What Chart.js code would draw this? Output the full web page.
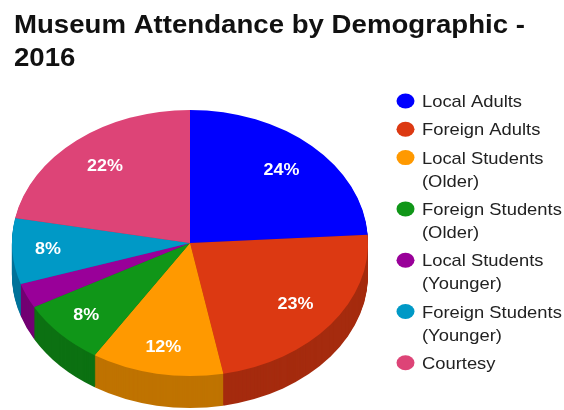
<!DOCTYPE html>
<html><head><meta charset="utf-8">
<script src="https://cdn.jsdelivr.net/npm/chart.js@4/dist/chart.umd.min.js"></script>
<style>html,body{margin:0;padding:0;background:#fff}#wrap{position:relative;width:564px;height:410px}</style>
</head><body><div id="wrap"><canvas id="c" width="564" height="410"></canvas></div>
<script>
// ---- data ----
const titleLines = ['Museum Attendance by Demographic -', '2016'];
const categories = ['Local Adults', 'Foreign Adults', 'Local Students (Older)', 'Foreign Students (Older)', 'Local Students (Younger)', 'Foreign Students (Younger)', 'Courtesy'];
const legendLines = [['Local Adults'], ['Foreign Adults'], ['Local Students', '(Older)'], ['Foreign Students', '(Older)'], ['Local Students', '(Younger)'], ['Foreign Students', '(Younger)'], ['Courtesy']];
const values = [24, 23, 12, 8, 3, 8, 22];
const colors = ['#0000ff', '#dc3912', '#ff9900', '#109618', '#990099', '#0099c6', '#dd4477'];
const sideColors = ['#0000bf', '#a52b0e', '#bf7300', '#0c7112', '#730073', '#00739a', '#a63359'];

// ---- geometry of the 3D ellipse ----
const CX = 190, CY = 243, RX = 178, RY = 133, DEPTH = 32;
const FONT = '"Liberation Sans", Arial, sans-serif';

function ellipseTransform(ctx, arc, dy) {
  ctx.translate(CX, CY + dy);
  ctx.scale(RX / arc.outerRadius, RY / arc.outerRadius);
  ctx.translate(-arc.x, -arc.y);
}

const pie3d = {
  id: 'pie3d',
  beforeDatasetsDraw(chart) {
    const ctx = chart.ctx;
    const arcs = chart.getDatasetMeta(0).data;
    const a0 = arcs[0];
    for (let k = DEPTH; k >= 1; k--) {
      ctx.save();
      ellipseTransform(ctx, a0, k);
      arcs.forEach((a, i) => {
        ctx.beginPath();
        ctx.moveTo(a.x, a.y);
        ctx.arc(a.x, a.y, a.outerRadius, a.startAngle, a.endAngle);
        ctx.closePath();
        ctx.fillStyle = sideColors[i];
        ctx.fill();
      });
      ctx.restore();
    }
    ctx.save();
    ellipseTransform(ctx, a0, 0);
  },
  afterDatasetsDraw(chart) {
    const ctx = chart.ctx;
    ctx.restore();
    const arcs = chart.getDatasetMeta(0).data;
    const total = values.reduce((s, v) => s + v, 0);
    ctx.save();
    ctx.fillStyle = '#ffffff';
    ctx.font = 'bold 16px ' + FONT;
    ctx.textAlign = 'center';
    ctx.textBaseline = 'middle';
    arcs.forEach((a, i) => {
      const share = values[i] / total;
      if (share < 0.05) return;
      const mid = (a.startAngle + a.endAngle) / 2;
      const f = share >= 0.2 ? 0.75 : 0.8;
      const x = CX + Math.cos(mid) * RX * f;
      const y = CY + Math.sin(mid) * RY * f;
      ctx.save();
      ctx.translate(x, y);
      ctx.scale(1.12, 1);
      ctx.fillText(Math.round(share * 100) + '%', 0, 0);
      ctx.restore();
    });
    ctx.restore();
  },
  afterDraw(chart) {
    const ctx = chart.ctx;
    ctx.save();
    // title
    ctx.fillStyle = '#111111';
    ctx.font = 'bold 26px ' + FONT;
    ctx.textAlign = 'left';
    ctx.textBaseline = 'alphabetic';
    titleLines.forEach((t, i) => {
      ctx.save();
      ctx.translate(14, 32.5 + i * 33);
      ctx.scale(1.062, 1);
      ctx.fillText(t, 0, 0);
      ctx.restore();
    });
    // legend
    ctx.font = '17px ' + FONT;
    let y = 101;
    legendLines.forEach((lines, i) => {
      ctx.fillStyle = colors[i];
      ctx.beginPath();
      ctx.ellipse(405.5, y, 9, 7.5, 0, 0, Math.PI * 2);
      ctx.fill();
      ctx.fillStyle = '#222222';
      lines.forEach((t, j) => {
        ctx.save();
        ctx.translate(422, y + 6 + j * 23);
        ctx.scale(1.08, 1);
        ctx.fillText(t, 0, 0);
        ctx.restore();
      });
      y += 23 * (lines.length - 1) + 28.3;
    });
    ctx.restore();
  }
};

new Chart(document.getElementById('c'), {
  type: 'pie',
  data: {
    labels: categories,
    datasets: [{ data: values, backgroundColor: colors, borderWidth: 0 }]
  },
  options: {
    responsive: false,
    animation: false,
    layout: { padding: { left: 12, right: 196, top: 27, bottom: 27 } },
    plugins: { legend: { display: false }, title: { display: false }, tooltip: { enabled: false } }
  },
  plugins: [pie3d]
});
</script>
</body></html>
